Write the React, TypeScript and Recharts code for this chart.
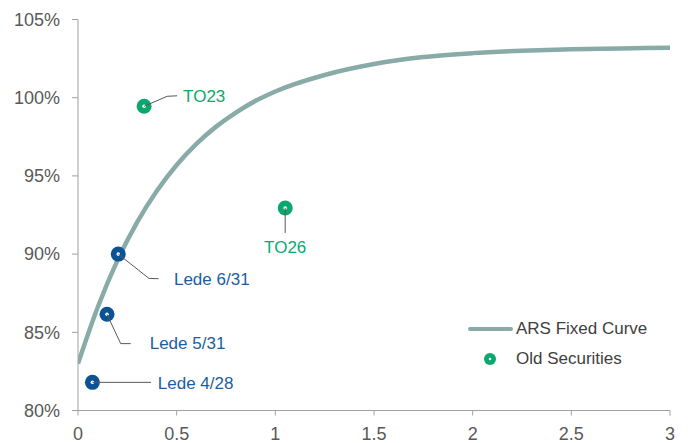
import React from 'react';
import { ComposedChart, Line, Scatter, XAxis, YAxis, Legend } from 'recharts';

// ARS fixed-rate curve: years to maturity vs price (%)
const curveYears = [0, 0.1, 0.2, 0.3, 0.4, 0.5, 0.6, 0.7, 0.8, 0.9, 1.0, 1.25, 1.5, 1.75, 2.0, 2.25, 2.5, 2.75, 3.0];
const curvePrices = [83.0, 86.6, 89.6, 92.05, 94.05, 95.7, 97.05, 98.15, 99.05, 99.8, 100.4, 101.45, 102.15, 102.6, 102.85, 103.0, 103.1, 103.15, 103.2];

// old bonds
const oldNames = ['TO23', 'TO26'];
const oldYears = [0.335, 1.05];
const oldPrices = [99.45, 92.95];

// LEDE bills
const ledeNames = ['Lede 4/28', 'Lede 5/31', 'Lede 6/31'];
const ledeYears = [0.073, 0.147, 0.204];
const ledePrices = [81.8, 86.15, 90.0];

const xTicks = [0, 0.5, 1, 1.5, 2, 2.5, 3];
const yTicks = [80, 85, 90, 95, 100, 105];

const CURVE = '#88ABA8';
const GREEN = '#0AA86E';
const BLUE = '#0B5394';
const LABEL_BLUE = '#1A5EA0';
const AXIS = '#A0A0A0';
const TEXT = '#595959';
const FONT = '"Liberation Sans", Arial, sans-serif';

const curveData = curveYears.map((x, i) => ({ x, y: curvePrices[i] }));
const oldData = oldNames.map((name, i) => ({ name, x: oldYears[i], y: oldPrices[i] }));
const ledeData = ledeNames.map((name, i) => ({ name, x: ledeYears[i], y: ledePrices[i] }));

// leader line bends and label offsets, relative to the point centre
type Callout = { path: [number, number][]; tx: number; ty: number; anchor?: 'start' | 'middle' };
const callouts: Record<string, Callout> = {
  TO23: { path: [[23, -10], [33, -10.5]], tx: 39, ty: -10 },
  TO26: { path: [[0, 25]], tx: 0, ty: 40, anchor: 'middle' },
  'Lede 6/31': { path: [[30.7, 24.3], [40.4, 24.6]], tx: 55.7, ty: 25.3 },
  'Lede 5/31': { path: [[13.7, 29.3], [23.7, 29.3]], tx: 42.7, ty: 29.3 },
  'Lede 4/28': { path: [[58.7, 0]], tx: 65.4, ty: 1.3 },
};

const makeMarker = (color: string, textColor: string) => (props: any) => {
  const { cx, cy, payload } = props;
  const c = callouts[payload.name];
  const pts = [[0, 0], ...c.path].map(([dx, dy]) => `${cx + dx},${cy + dy}`).join(' ');
  return (
    <g>
      <circle cx={cx} cy={cy} r={7.5} fill={color} />
      <circle cx={cx} cy={cy} r={1.8} fill="#fff" />
      <polyline points={pts} fill="none" stroke="#595959" strokeWidth={1} />
      <text
        x={cx + c.tx}
        y={cy + c.ty}
        fill={textColor}
        fontSize={17}
        fontFamily={FONT}
        textAnchor={c.anchor || 'start'}
        dominantBaseline="central"
      >
        {payload.name}
      </text>
    </g>
  );
};

const LegendBox = () => (
  <div style={{ fontFamily: FONT, fontSize: 17, color: '#404040', lineHeight: '30px' }}>
    <div style={{ display: 'flex', alignItems: 'center', height: 30 }}>
      <svg width={48} height={30}>
        <line x1={2} y1={15} x2={43} y2={15} stroke={CURVE} strokeWidth={4} strokeLinecap="round" />
      </svg>
      <span>ARS Fixed Curve</span>
    </div>
    <div style={{ display: 'flex', alignItems: 'center', height: 30 }}>
      <svg width={48} height={30}>
        <circle cx={22} cy={15} r={6} fill={GREEN} />
        <circle cx={22} cy={15} r={1.3} fill="#fff" />
      </svg>
      <span>Old Securities</span>
    </div>
  </div>
);

export default function App() {
  return (
    <ComposedChart
      width={675}
      height={435}
      margin={{ top: 11.5, right: 13, bottom: 2.5, left: 0 }}
      style={{ fontFamily: FONT }}
    >
      <XAxis
        type="number"
        dataKey="x"
        domain={[0, 3]}
        ticks={xTicks}
        height={30}
        tickSize={5}
        tickMargin={12}
        stroke={AXIS}
        tick={{ fill: TEXT, fontSize: 18 }}
        allowDataOverflow
      />
      <YAxis
        type="number"
        dataKey="y"
        domain={[80, 105]}
        ticks={yTicks}
        width={70}
        tickSize={6}
        tickMargin={12}
        stroke={AXIS}
        tick={{ fill: TEXT, fontSize: 18 }}
        tickFormatter={(v: number) => `${v}%`}
        allowDataOverflow
      />
      <Line
        data={curveData}
        dataKey="y"
        name="ARS Fixed Curve"
        type="monotone"
        stroke={CURVE}
        strokeWidth={4.5}
        dot={false}
        activeDot={false}
        isAnimationActive={false}
      />
      <Scatter
        data={oldData}
        dataKey="y"
        name="Old Securities"
        fill={GREEN}
        shape={makeMarker(GREEN, GREEN)}
        isAnimationActive={false}
      />
      <Scatter
        data={ledeData}
        dataKey="y"
        name="Lede"
        fill={BLUE}
        legendType="none"
        shape={makeMarker(BLUE, LABEL_BLUE)}
        isAnimationActive={false}
      />
      <Legend
        layout="horizontal"
        align="center"
        verticalAlign="middle"
        content={() => <LegendBox />}
        wrapperStyle={{ left: 460, top: 306, width: 'auto' }}
      />
    </ComposedChart>
  );
}
